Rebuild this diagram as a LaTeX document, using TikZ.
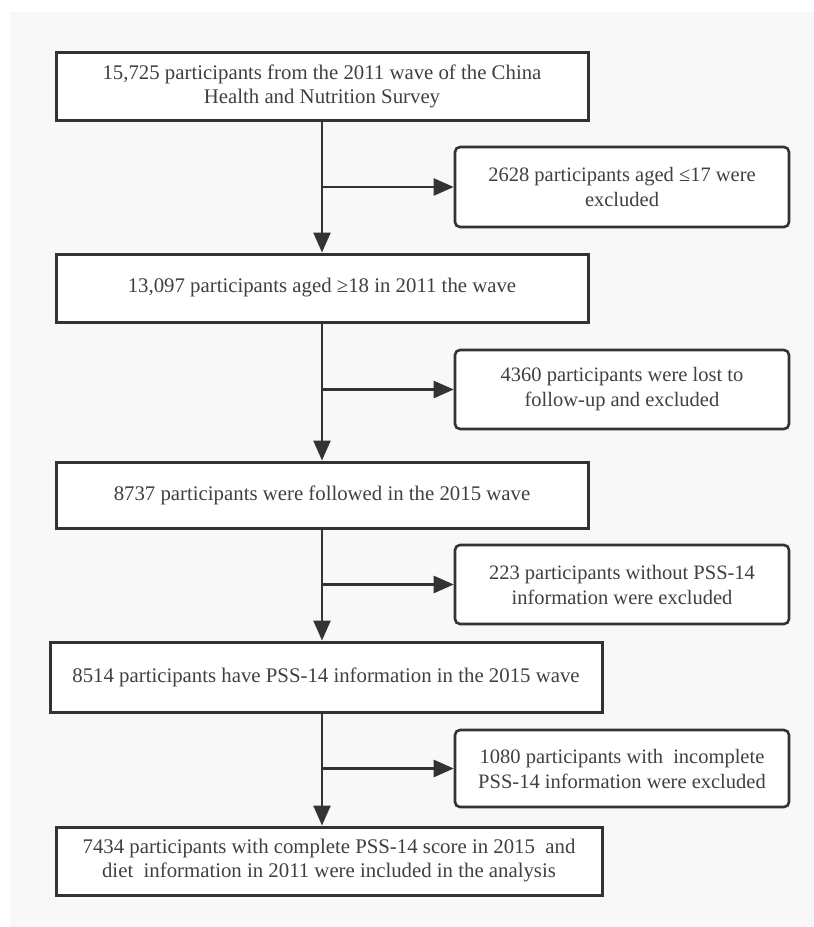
\documentclass[tikz,border=0pt]{standalone}
\usepackage{fontspec}
\setmainfont{Liberation Serif}
\usetikzlibrary{arrows.meta}
\definecolor{panel}{HTML}{F8F8F8}
\definecolor{edge}{HTML}{333333}
\definecolor{txt}{HTML}{404040}
\begin{document}
\begin{tikzpicture}[x=1pt,y=-1pt,
  mainbox/.style={draw=edge, line width=3pt, fill=white, inner sep=0pt, align=center, text=txt,
    font=\fontsize{20.8}{24}\selectfont},
  sidebox/.style={draw=edge, line width=2.6pt, fill=white, rounded corners=5pt, inner sep=0pt,
    align=center, text=txt, font=\fontsize{20.5}{25}\selectfont,
    minimum width=334pt},
  arr/.style={draw=edge, line width=2.5pt, -{Triangle[length=20pt,width=17pt]}}]
\useasboundingbox (0,0) rectangle (814,927);
\fill[white] (0,0) rectangle (814,927);
\fill[panel] (10,12) rectangle (814,927);
\coordinate (spine) at (322,0);

\node[mainbox, minimum width=532pt, minimum height=68pt] (b1) at (322,86)
  {15,725 participants from the 2011 wave of the China\\Health and Nutrition Survey};
\node[mainbox, minimum width=532pt, minimum height=68pt] (b2) at (322,288)
  {13,097 participants aged ≥18 in 2011 the wave};
\node[mainbox, minimum width=532pt, minimum height=66pt] (b3) at (322,495)
  {8737 participants were followed in the 2015 wave};
\node[mainbox, minimum width=552pt, minimum height=70pt] (b4) at (326,677)
  {8514 participants have PSS-14 information in the 2015 wave};
\node[mainbox, minimum width=546pt, minimum height=68pt] (b5) at (329,861)
  {7434 participants with complete PSS-14 score in 2015\ \ and\\diet\ \ information in 2011 were included in the analysis};

\node[sidebox, minimum height=80pt] (s1) at (622,187)
  {2628 participants aged ≤17 were\\excluded};
\node[sidebox, minimum height=79pt] (s2) at (622,389.5)
  {4360 participants were lost to\\follow-up and excluded};
\node[sidebox, minimum height=79pt] (s3) at (622,584.5)
  {223 participants without PSS-14\\information were excluded};
\node[sidebox, minimum height=77pt] (s4) at (622,768.5)
  {1080 participants with\ \ incomplete\\PSS-14 information were excluded};

\draw[arr] (b1.south -| spine) -- (b2.north -| spine);
\draw[arr] (b2.south -| spine) -- (b3.north -| spine);
\draw[arr] (b3.south -| spine) -- (b4.north -| spine);
\draw[arr] (b4.south -| spine) -- (b5.north -| spine);

\draw[arr] (spine |- s1.west) -- (s1.west);
\draw[arr] (spine |- s2.west) -- (s2.west);
\draw[arr] (spine |- s3.west) -- (s3.west);
\draw[arr] (spine |- s4.west) -- (s4.west);
\end{tikzpicture}
\end{document}
